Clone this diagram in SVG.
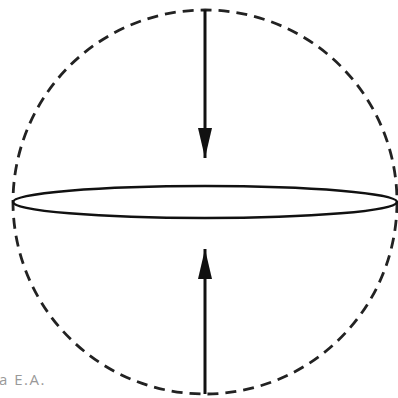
<svg xmlns="http://www.w3.org/2000/svg" width="398" height="398" viewBox="0 0 398 398">
<defs>
<marker id="a2" viewBox="0 0 30 16" refX="30" refY="8" markerWidth="30" markerHeight="16" markerUnits="userSpaceOnUse" orient="auto">
<path d="M0,1 L30,8 L0,15 Z" fill="#111"/>
</marker>
</defs>
<style>
.dash{fill:none;stroke:#222;stroke-width:2.8;stroke-dasharray:11 7}
.line{fill:none;stroke:#111;stroke-width:3}
</style>
<rect width="398" height="398" fill="#fff"/>
<g id="sphere"><circle cx="205" cy="202" r="192" class="dash"/></g>
<g id="disk"><ellipse cx="205" cy="202" rx="192" ry="16" fill="none" stroke="#111" stroke-width="2.5"/></g>
<g id="connectors">
<line x1="205" y1="10" x2="205" y2="158" class="line" marker-end="url(#a2)"/>
<line x1="205" y1="394" x2="205" y2="249" class="line" marker-end="url(#a2)"/>
</g>
<text x="-1" y="385" font-family="Open Sans, sans-serif" font-size="15" letter-spacing="1.5" fill="#999">a E.A.</text>
</svg>
